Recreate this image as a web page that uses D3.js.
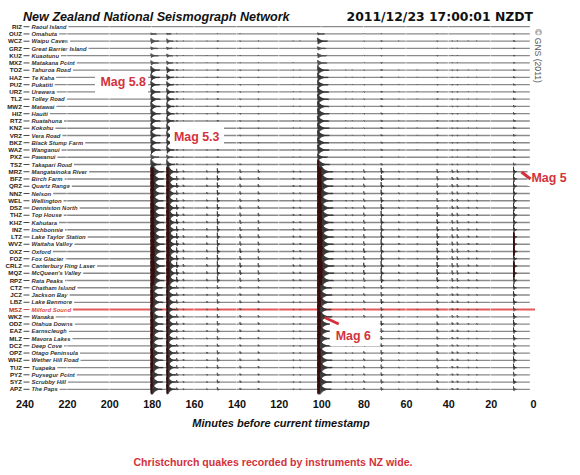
<!DOCTYPE html>
<html>
<head>
<meta charset="utf-8">
<script src="https://cdn.jsdelivr.net/npm/d3@7"></script>
<style>
  body { margin: 0; background: #fff; }
  svg { display: block; }
</style>
</head>
<body>
<svg id="chart" width="580" height="475"></svg>
<script>
// Stations, top to bottom
const codes = ["RIZ","OUZ","WCZ","GRZ","KUZ","MXZ","TOZ","HAZ","PUZ","URZ","TLZ","MWZ","HIZ","RTZ","KNZ","VRZ","BKZ","WAZ","PXZ","TSZ",
  "MRZ","BFZ","QRZ","NNZ","WEL","DSZ","THZ","KHZ","INZ","LTZ","WVZ","OXZ","FOZ","CRLZ","MQZ","RPZ",
  "CTZ","JCZ","LBZ","MSZ","WKZ","ODZ","EAZ","MLZ","DCZ","OPZ","WHZ","TUZ","PYZ","SYZ","APZ"];
const names = ["Raoul Island","Omahuta","Waipu Caves","Great Barrier Island","Kuaotunu","Matakana Point","Tahuroa Road","Te Kaha",
  "Pukatiti","Urewera","Tolley Road","Matawai","Hauiti","Ruatahuna","Kokohu","Vera Road","Black Stump Farm","Wanganui","Pawanui",
  "Takapari Road","Mangatainoka River","Birch Farm","Quartz Range","Nelson","Wellington","Denniston North","Top House","Kahutara",
  "Inchbonnie","Lake Taylor Station","Waitaha Valley","Oxford","Fox Glacier","Canterbury Ring Laser","McQueen's Valley","Rata Peaks",
  "Chatham Island","Jackson Bay","Lake Benmore","Milford Sound","Wanaka","Otahua Downs","Earnscleugh","Mavora Lakes","Deep Cove",
  "Otago Peninsula","Wether Hill Road","Tuapeka","Puysegur Point","Scrubby Hill","The Paps"];
// how strongly each station records Christchurch quakes (estimated)
const gains = [0, 0.03, 0.1, 0.05, 0.07, 0.08, 0.16, 0.14, 0.14, 0.17, 0.19, 0.19, 0.21, 0.19, 0.2, 0.2, 0.18, 0.2, 0.1, 0.25,
  1.0, 1.0, 1.1, 1.0, 0.9, 1.1, 1.2, 1.2, 1.2, 1.4, 1.4, 1.5, 1.2, 1.6, 1.6, 1.3,
  0.6, 0.7, 0.8, 0.5, 0.7, 0.8, 0.7, 0.6, 0.5, 0.7, 0.7, 0.7, 0.5, 0.6, 0.5];

// quakes: minutes before timestamp and relative size
const quakeMinutes = [180.3, 172.8, 168.2, 165.1, 154, 149, 138.3, 129.7, 113.2, 110, 101.6, 88.4, 85.3,
  79.9, 71.7, 63.4, 54.7, 45.3, 38.2, 35.8, 30.6, 26.6, 9.2];
const quakeSizes = [5, 4, 0.5, 0.18, 0.18, 0.6, 0.35, 0.3, 0.14, 0.12, 6, 0.08, 0.08,
  0.35, 0.7, 0.12, 0.08, 0.45, 0.3, 0.3, 0.12, 0.12, 1.0];

const tickValues = [240, 220, 200, 180, 160, 140, 120, 100, 80, 60, 40, 20, 0];
const highlightStation = "MSZ";

const svg = d3.select("#chart");
const red = "#d3323c";

const x = d3.scaleLinear().domain([240, 0]).range([24.5, 533]);
const y = d3.scalePoint().domain(codes).range([26.7, 389.3]);
const amp = d3.scalePow().exponent(0.75).domain([0, 1]).range([0, 5]).clamp(true);

// header
svg.append("text")
    .attr("x", 23).attr("y", 20.5)
    .attr("font-family", "Liberation Sans, Arial, sans-serif")
    .attr("font-size", 12.6).attr("font-weight", "bold").attr("font-style", "italic")
    .attr("fill", "#111")
    .text("New Zealand National Seismograph Network");

svg.append("text")
    .attr("x", 533).attr("y", 20.5).attr("text-anchor", "end")
    .attr("font-family", "DejaVu Sans, sans-serif")
    .attr("font-size", 12.4).attr("font-weight", "bold")
    .attr("fill", "#111")
    .text("2011/12/23 17:00:01 NZDT");

svg.append("text")
    .attr("transform", "translate(535,29) rotate(90)")
    .attr("font-family", "Liberation Sans, Arial, sans-serif")
    .attr("font-size", 8.6).attr("fill", "#555")
    .text("\u00a9 GNS (2011)");

// station labels
const labels = svg.append("g");
const rows = labels.selectAll("g").data(codes).enter().append("g")
    .attr("transform", d => `translate(0,${y(d)})`);

rows.append("text")
    .attr("x", 22).attr("y", 2.1).attr("text-anchor", "end")
    .attr("font-family", "Liberation Sans, Arial, sans-serif")
    .attr("font-size", 6.2).attr("font-weight", "bold")
    .attr("fill", d => d === highlightStation ? "#b03030" : "#222")
    .text(d => d);

rows.append("line")
    .attr("x1", 23.5).attr("x2", 29.5)
    .attr("stroke", d => d === highlightStation ? "#c04040" : "#333").attr("stroke-width", 0.9);

const nameText = rows.append("text")
    .attr("x", 31.5).attr("y", 2.1)
    .attr("font-family", "Liberation Sans, Arial, sans-serif")
    .attr("font-size", 5.9).attr("font-weight", "bold").attr("font-style", "italic")
    .attr("fill", d => d === highlightStation ? "#e04a4a" : "#333")
    .text((d, i) => names[i]);

const lineStart = nameText.nodes().map(n => 31.5 + n.getComputedTextLength() + 2);

// trace baselines
const traces = svg.insert("g", "g");
traces.selectAll("line").data(codes).enter().append("line")
    .attr("x1", (d, i) => lineStart[i])
    .attr("x2", d => d === highlightStation ? 535 : x(1.5))
    .attr("y1", d => y(d)).attr("y2", d => y(d))
    .attr("stroke", d => d === highlightStation ? "#e45a5a" : "#8a8a8a")
    .attr("stroke-width", d => d === highlightStation ? 2 : 1.3);

// faint white gaps at each 20 minute mark
svg.append("g").selectAll("line").data(tickValues.slice(1, -1)).enter().append("line")
    .attr("x1", d => x(d)).attr("x2", d => x(d))
    .attr("y1", 22).attr("y2", 392)
    .attr("stroke", "#fff").attr("stroke-width", 0.8).attr("opacity", 0.7);

// bursts: drawn as an oscillating trace inside a decaying envelope
const wiggle = d3.line().x(d => x(d.m)).y(d => d.y);

const bursts = [];
const saturated = [];
codes.forEach((c, i) => {
  quakeMinutes.forEach((m0, j) => {
    const A = quakeSizes[j] * gains[i];
    if (A < 0.01) return;
    const tau = 0.15 + 0.16 * quakeSizes[j];
    const dtMax = tau * Math.log(A / 0.01);
    const base = y(c);
    const pts = [{ m: m0, y: base }];
    let k = 0;
    for (let dt = 0; dt <= dtMax; dt += 0.22, k++) {
      const h = Math.max(0.6, amp(A * Math.exp(-dt / tau)));
      pts.push({ m: m0 - dt, y: base + (k % 2 ? h : -h) });
    }
    pts.push({ m: m0 - dtMax - 0.2, y: base });
    bursts.push({ pts, big: A > 0.5 });
    if (A > 1.3) saturated.push({ m0, m1: m0 - tau * Math.log(A), base });
  });
});

svg.append("g").selectAll("path").data(bursts).enter().append("path")
    .attr("d", d => wiggle(d.pts))
    .attr("fill", "none")
    .attr("stroke", d => d.big ? "#2e2e2e" : "#4a4a4a")
    .attr("stroke-width", 0.8);

svg.append("g").selectAll("rect").data(saturated).enter().append("rect")
    .attr("x", d => x(d.m0) - 0.5)
    .attr("width", d => Math.max(1.8, x(d.m1) - x(d.m0)))
    .attr("y", d => d.base - 4.2).attr("height", 8.4)
    .attr("fill", "#3a0d0d");

// magnitude call-outs
const note = svg.append("g")
    .attr("font-family", "Liberation Sans, Arial, sans-serif")
    .attr("font-weight", "bold").attr("font-size", 12.4).attr("fill", red);

function callout(text, tx, ty, box) {
  note.append("rect")
      .attr("x", box[0]).attr("y", box[1]).attr("width", box[2]).attr("height", box[3])
      .attr("fill", "#fff");
  note.append("text").attr("x", tx).attr("y", ty).text(text);
}
callout("Mag 5.8", 100.5, 85.5, [95, 72, 53, 23]);
callout("Mag 5.3", 174, 141, [170, 125, 54, 22]);
callout("Mag 6", x(101.6) + 18, 339.5, [x(101.6) + 12, 319, 50, 27]);
callout("Mag 5", x(9.2) + 18, 182, [x(9.2) + 14, 168, 44, 18]);

note.append("line")
    .attr("x1", x(101.6) + 7).attr("y1", 317.5).attr("x2", x(101.6) + 21).attr("y2", 324)
    .attr("stroke", red).attr("stroke-width", 3);
note.append("line")
    .attr("x1", x(9.2) + 8).attr("y1", 172).attr("x2", x(9.2) + 17).attr("y2", 179)
    .attr("stroke", red).attr("stroke-width", 3);

// x axis
const axis = svg.append("g")
    .attr("transform", "translate(0,397)")
    .call(d3.axisBottom(x).tickValues(tickValues).tickSize(0).tickPadding(3));
axis.select(".domain").remove();
axis.selectAll("text")
    .attr("font-family", "Liberation Sans, Arial, sans-serif")
    .attr("font-size", 10.8).attr("font-weight", "bold").attr("fill", "#111");

svg.append("text")
    .attr("x", 281).attr("y", 427).attr("text-anchor", "middle")
    .attr("font-family", "Liberation Sans, Arial, sans-serif")
    .attr("font-size", 11).attr("font-weight", "bold").attr("font-style", "italic")
    .attr("fill", "#111")
    .text("Minutes before current timestamp");

svg.append("text")
    .attr("x", 273).attr("y", 466).attr("text-anchor", "middle")
    .attr("font-family", "Liberation Sans, Arial, sans-serif")
    .attr("font-size", 10.6).attr("font-weight", "bold")
    .attr("fill", red)
    .text("Christchurch quakes recorded by instruments NZ wide.");
</script>
</body>
</html>
